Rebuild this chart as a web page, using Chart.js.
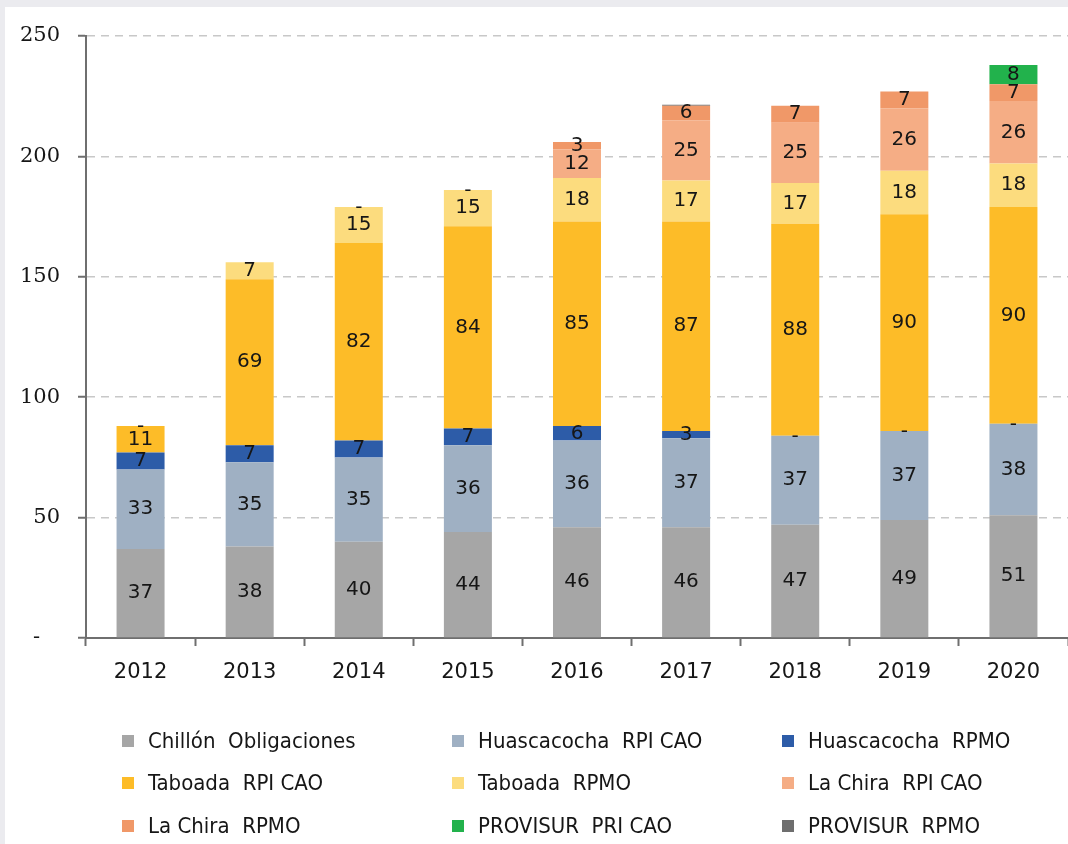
<!DOCTYPE html>
<html>
<head>
<meta charset="utf-8">
<script src="https://cdn.jsdelivr.net/npm/chart.js@4.4.0/dist/chart.umd.min.js"></script>
<style>
  html, body { margin: 0; padding: 0; background: #ebebef; }
  #wrap { width: 1068px; height: 844px; position: relative; }
</style>
</head>
<body>
<div id="wrap"><canvas id="myChart" width="1068" height="844"></canvas></div>
<script>
// years on the x axis
let years = ['2012', '2013', '2014', '2015', '2016', '2017', '2018', '2019', '2020']

// one array per series (null = no segment, 0 = shown as "-")
let chillonObl      = [37, 38, 40, 44, 46, 46, 47, 49, 51]
let huascRpiCao     = [33, 35, 35, 36, 36, 37, 37, 37, 38]
let huascRpmo       = [7, 7, 7, 7, 6, 3, 0, 0, 0]
let taboadaRpiCao   = [11, 69, 82, 84, 85, 87, 88, 90, 90]
let taboadaRpmo     = [0, 7, 15, 15, 18, 17, 17, 18, 18]
let laChiraRpiCao   = [null, null, 0, 0, 12, 25, 25, 26, 26]
let laChiraRpmo     = [null, null, null, null, 3, 6, 7, 7, 7]
let provisurPriCao  = [null, null, null, null, null, null, null, null, 8]
let provisurRpmo    = [null, null, null, null, null, 0.5, null, null, null]

let yTicks = [0, 50, 100, 150, 200, 250]

let seriesNames = [
    'Chillón  Obligaciones', 'Huascacocha  RPI CAO', 'Huascacocha  RPMO',
    'Taboada  RPI CAO', 'Taboada  RPMO', 'La Chira  RPI CAO',
    'La Chira  RPMO', 'PROVISUR  PRI CAO', 'PROVISUR  RPMO'
]
let seriesData = [chillonObl, huascRpiCao, huascRpmo, taboadaRpiCao, taboadaRpmo,
    laChiraRpiCao, laChiraRpmo, provisurPriCao, provisurRpmo]
let seriesColors = ['#a6a6a6', '#9fb0c3', '#2d5ca8', '#fdbc28', '#fcdc7e',
    '#f5ad85', '#f09868', '#22b24c', '#6e6e6e']

let textColor = '#161616'

// white panel inside the grey frame
let framePlugin = {
    id: 'frame',
    beforeDraw(chart) {
        let ctx = chart.ctx
        ctx.save()
        ctx.fillStyle = '#ebebef'
        ctx.fillRect(0, 0, chart.width, chart.height)
        ctx.fillStyle = '#ffffff'
        ctx.fillRect(5, 7, chart.width - 5, chart.height - 7)
        ctx.restore()
    }
}

// value labels centred in each segment, zero shows as "-"
let labelPlugin = {
    id: 'segLabels',
    afterDatasetsDraw(chart) {
        let ctx = chart.ctx
        ctx.save()
        ctx.font = '20px "DejaVu Sans"'
        ctx.fillStyle = textColor
        ctx.textAlign = 'center'
        ctx.textBaseline = 'middle'
        chart.data.datasets.forEach((ds, i) => {
            let meta = chart.getDatasetMeta(i)
            meta.data.forEach((bar, j) => {
                let v = ds.data[j]
                if (v === null || v === undefined) return
                if (v > 0 && v < 1) return
                let txt = v === 0 ? '-' : String(v)
                let yc = (bar.y + bar.base) / 2
                ctx.fillText(txt, bar.x, v === 0 ? yc + 1 : yc)
            })
        })
        ctx.restore()
    }
}

// 3 x 3 legend grid under the axis
let legendPlugin = {
    id: 'gridLegend',
    afterDraw(chart) {
        let ctx = chart.ctx
        let cols = [122, 452, 782]
        let rows = [741, 783, 826]
        ctx.save()
        ctx.font = '22px "DejaVu Sans Condensed", "DejaVu Sans"'
        ctx.textBaseline = 'middle'
        ctx.textAlign = 'left'
        seriesNames.forEach((name, i) => {
            let x = cols[i % 3]
            let y = rows[Math.floor(i / 3)]
            ctx.fillStyle = seriesColors[i]
            ctx.fillRect(x, y - 6, 12, 12)
            ctx.fillStyle = textColor
            ctx.fillText(name, x + 26, y + 1)
        })
        ctx.restore()
    }
}

let myChart = document.getElementById('myChart').getContext('2d')

let chart = new Chart(myChart, {
    type: 'bar',
    data: {
        labels: years,
        datasets: seriesData.map((d, i) => ({
            label: seriesNames[i],
            data: d,
            backgroundColor: seriesColors[i],
            borderWidth: 0,
            barPercentage: 0.44,
            categoryPercentage: 1.0
        }))
    },
    options: {
        responsive: false,
        animation: false,
        layout: { padding: { left: 5, top: 36, right: 0, bottom: 146 } },
        plugins: {
            legend: { display: false },
            tooltip: { enabled: false }
        },
        scales: {
            x: {
                stacked: true,
                offset: true,
                grid: {
                    offset: true,
                    drawOnChartArea: false,
                    tickLength: 8,
                    tickColor: '#6f6f6f',
                    tickWidth: 2
                },
                border: { display: true, color: '#6f6f6f', width: 2 },
                ticks: {
                    color: textColor,
                    font: { family: 'DejaVu Sans', size: 21 },
                    padding: 14,
                    maxRotation: 0
                },
                afterFit(scale) { scale.height = 60 }
            },
            y: {
                stacked: true,
                min: 0,
                max: 250,
                afterBuildTicks(scale) { scale.ticks = yTicks.map(v => ({ value: v })) },
                grid: {
                    color: '#c8c8c8',
                    lineWidth: 1.5,
                    tickColor: '#6f6f6f',
                    tickLength: 8,
                    tickWidth: 2
                },
                border: { display: true, color: '#6f6f6f', width: 2, dash: [8, 6] },
                ticks: {
                    color: textColor,
                    font: { family: 'DejaVu Serif', size: 21 },
                    padding: 18,
                    callback: v => v === 0 ? '-   ' : v
                },
                afterFit(scale) { scale.width = 81 }
            }
        }
    },
    plugins: [framePlugin, labelPlugin, legendPlugin]
})
</script>
</body>
</html>
